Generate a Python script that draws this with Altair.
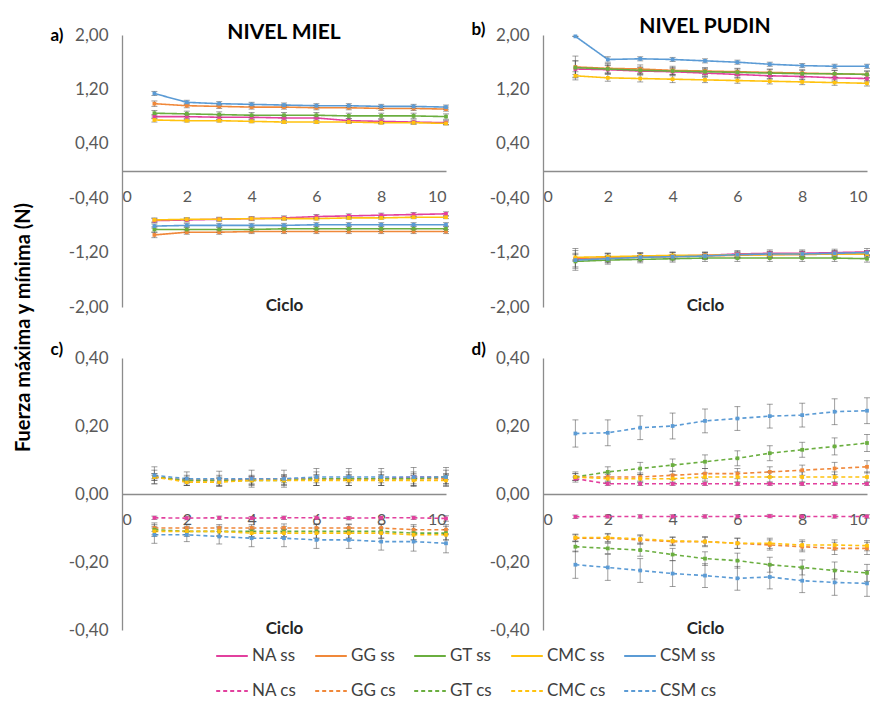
import altair as alt
import pandas as pd

CICLO = [1, 2, 3, 4, 5, 6, 7, 8, 9, 10]
SERIES = ["NA", "GG", "GT", "CMC", "CSM"]
COLORS = ["#E2409E", "#F0883A", "#6AAE3F", "#FFC20E", "#5B9BD5"]
LEGEND_LABELS = [s + " ss" for s in SERIES] + [s + " cs" for s in SERIES]
DASHES = [[1, 0]] * 5 + [[4, 3]] * 5

X_TICKS = [0, 2, 4, 6, 8, 10]
Y_TICKS_AB = [-2.0, -1.2, -0.4, 0.4, 1.2, 2.0]
Y_TICKS_CD = [-0.4, -0.2, 0.0, 0.2, 0.4]

# a) NIVEL MIEL, sin sal (ss)
MIEL_SS_MAX = {
    "NA":  [0.80, 0.80, 0.79, 0.79, 0.78, 0.78, 0.74, 0.73, 0.72, 0.71],
    "GG":  [0.99, 0.96, 0.95, 0.94, 0.94, 0.93, 0.93, 0.92, 0.92, 0.91],
    "GT":  [0.85, 0.84, 0.83, 0.82, 0.82, 0.82, 0.81, 0.81, 0.81, 0.80],
    "CMC": [0.75, 0.74, 0.74, 0.73, 0.72, 0.72, 0.72, 0.71, 0.71, 0.70],
    "CSM": [1.14, 1.01, 0.99, 0.98, 0.97, 0.96, 0.96, 0.95, 0.95, 0.94],
}
MIEL_SS_MIN = {
    "NA":  [-0.73, -0.72, -0.71, -0.70, -0.69, -0.67, -0.66, -0.65, -0.64, -0.63],
    "GG":  [-0.94, -0.90, -0.90, -0.89, -0.89, -0.89, -0.89, -0.89, -0.89, -0.89],
    "GT":  [-0.86, -0.86, -0.86, -0.86, -0.85, -0.85, -0.85, -0.85, -0.85, -0.85],
    "CMC": [-0.72, -0.71, -0.71, -0.70, -0.70, -0.70, -0.69, -0.69, -0.68, -0.68],
    "CSM": [-0.81, -0.80, -0.80, -0.80, -0.80, -0.79, -0.79, -0.79, -0.79, -0.79],
}
MIEL_SS_ERR = {
    "NA":  [0.03, 0.03, 0.03, 0.03, 0.03, 0.03, 0.03, 0.03, 0.03, 0.03],
    "GG":  [0.04, 0.03, 0.03, 0.03, 0.03, 0.03, 0.03, 0.03, 0.03, 0.03],
    "GT":  [0.04, 0.04, 0.04, 0.04, 0.04, 0.04, 0.04, 0.04, 0.04, 0.04],
    "CMC": [0.03, 0.02, 0.02, 0.02, 0.02, 0.02, 0.02, 0.02, 0.02, 0.02],
    "CSM": [0.03, 0.03, 0.03, 0.03, 0.03, 0.03, 0.03, 0.03, 0.03, 0.03],
}

# b) NIVEL PUDIN, sin sal (ss)
PUDIN_SS_MAX = {
    "NA":  [1.50, 1.49, 1.47, 1.46, 1.44, 1.42, 1.40, 1.39, 1.37, 1.36],
    "GG":  [1.53, 1.51, 1.50, 1.48, 1.47, 1.46, 1.45, 1.44, 1.43, 1.42],
    "GT":  [1.52, 1.50, 1.48, 1.47, 1.46, 1.45, 1.44, 1.43, 1.43, 1.42],
    "CMC": [1.40, 1.37, 1.36, 1.35, 1.34, 1.33, 1.32, 1.31, 1.30, 1.29],
    "CSM": [1.98, 1.64, 1.65, 1.64, 1.62, 1.60, 1.57, 1.55, 1.54, 1.54],
}
PUDIN_SS_MIN = {
    "NA":  [-1.29, -1.28, -1.26, -1.25, -1.24, -1.22, -1.21, -1.21, -1.20, -1.19],
    "GG":  [-1.30, -1.28, -1.27, -1.26, -1.25, -1.24, -1.23, -1.23, -1.22, -1.22],
    "GT":  [-1.33, -1.31, -1.30, -1.29, -1.28, -1.28, -1.28, -1.28, -1.28, -1.29],
    "CMC": [-1.27, -1.26, -1.25, -1.24, -1.24, -1.23, -1.23, -1.22, -1.22, -1.22],
    "CSM": [-1.31, -1.29, -1.27, -1.26, -1.25, -1.23, -1.22, -1.22, -1.21, -1.20],
}
PUDIN_SS_ERR = {
    "NA":  [0.12, 0.06, 0.05, 0.05, 0.05, 0.05, 0.05, 0.05, 0.05, 0.05],
    "GG":  [0.16, 0.07, 0.06, 0.06, 0.05, 0.05, 0.05, 0.05, 0.05, 0.05],
    "GT":  [0.10, 0.06, 0.05, 0.05, 0.05, 0.05, 0.05, 0.05, 0.05, 0.05],
    "CMC": [0.06, 0.05, 0.05, 0.05, 0.04, 0.04, 0.04, 0.04, 0.04, 0.04],
    "CSM": [0.00, 0.04, 0.03, 0.03, 0.03, 0.03, 0.03, 0.03, 0.03, 0.03],
}

# c) NIVEL MIEL, con sal (cs)
MIEL_CS_MAX = {
    "NA":  [0.050, 0.040, 0.040, 0.045, 0.045, 0.045, 0.045, 0.045, 0.050, 0.050],
    "GG":  [0.050, 0.040, 0.040, 0.040, 0.045, 0.045, 0.045, 0.045, 0.045, 0.045],
    "GT":  [0.050, 0.040, 0.040, 0.040, 0.040, 0.045, 0.045, 0.045, 0.045, 0.050],
    "CMC": [0.050, 0.035, 0.035, 0.040, 0.040, 0.040, 0.040, 0.040, 0.040, 0.040],
    "CSM": [0.055, 0.045, 0.045, 0.045, 0.045, 0.050, 0.050, 0.050, 0.050, 0.050],
}
MIEL_CS_MIN = {
    "NA":  [-0.070, -0.071, -0.070, -0.071, -0.070, -0.070, -0.071, -0.070, -0.070, -0.072],
    "GG":  [-0.100, -0.100, -0.100, -0.100, -0.100, -0.100, -0.100, -0.100, -0.105, -0.105],
    "GT":  [-0.105, -0.110, -0.110, -0.110, -0.110, -0.110, -0.110, -0.110, -0.115, -0.115],
    "CMC": [-0.110, -0.110, -0.110, -0.115, -0.115, -0.115, -0.115, -0.115, -0.120, -0.120],
    "CSM": [-0.120, -0.120, -0.125, -0.130, -0.130, -0.135, -0.135, -0.140, -0.140, -0.145],
}
MIEL_CS_ERR = {
    "NA":  [0.005, 0.005, 0.005, 0.005, 0.005, 0.005, 0.005, 0.005, 0.005, 0.008],
    "GG":  [0.010, 0.010, 0.010, 0.010, 0.012, 0.012, 0.012, 0.012, 0.015, 0.015],
    "GT":  [0.020, 0.015, 0.015, 0.015, 0.015, 0.020, 0.020, 0.020, 0.020, 0.020],
    "CMC": [0.010, 0.010, 0.012, 0.012, 0.012, 0.015, 0.015, 0.015, 0.015, 0.015],
    "CSM": [0.025, 0.020, 0.022, 0.025, 0.025, 0.025, 0.025, 0.025, 0.028, 0.028],
}

# d) NIVEL PUDIN, con sal (cs)
PUDIN_CS_MAX = {
    "NA":  [0.045, 0.030, 0.030, 0.030, 0.030, 0.030, 0.030, 0.030, 0.030, 0.030],
    "GG":  [0.050, 0.050, 0.050, 0.055, 0.060, 0.060, 0.065, 0.070, 0.075, 0.080],
    "GT":  [0.050, 0.065, 0.075, 0.085, 0.095, 0.105, 0.120, 0.130, 0.140, 0.150],
    "CMC": [0.050, 0.045, 0.045, 0.045, 0.050, 0.050, 0.050, 0.050, 0.050, 0.050],
    "CSM": [0.178, 0.180, 0.195, 0.200, 0.215, 0.222, 0.229, 0.232, 0.242, 0.245],
}
PUDIN_CS_MIN = {
    "NA":  [-0.067, -0.066, -0.066, -0.066, -0.066, -0.066, -0.065, -0.066, -0.066, -0.066],
    "GG":  [-0.130, -0.130, -0.135, -0.140, -0.140, -0.145, -0.150, -0.155, -0.160, -0.160],
    "GT":  [-0.155, -0.160, -0.165, -0.178, -0.190, -0.196, -0.208, -0.216, -0.225, -0.232],
    "CMC": [-0.128, -0.128, -0.132, -0.138, -0.140, -0.145, -0.145, -0.150, -0.150, -0.152],
    "CSM": [-0.208, -0.216, -0.225, -0.234, -0.240, -0.248, -0.244, -0.255, -0.260, -0.263],
}
PUDIN_CS_ERR = {
    "NA":  [0.005, 0.005, 0.005, 0.005, 0.005, 0.005, 0.005, 0.005, 0.005, 0.005],
    "GG":  [0.010, 0.012, 0.012, 0.012, 0.015, 0.015, 0.015, 0.015, 0.018, 0.018],
    "GT":  [0.015, 0.015, 0.018, 0.018, 0.020, 0.022, 0.022, 0.022, 0.025, 0.025],
    "CMC": [0.010, 0.012, 0.012, 0.012, 0.012, 0.015, 0.015, 0.015, 0.015, 0.015],
    "CSM": [0.040, 0.038, 0.035, 0.038, 0.035, 0.035, 0.035, 0.035, 0.038, 0.038],
}

FONT = "Lato"
LABEL_EXPR = "replace(replace(format(datum.value, '.2f'), '.', ','), '\u2212', '-')"
W, H = 324, 272


def build_df(maxd, mind, errd, tipo):
    rows = []
    for s in SERIES:
        for parte, vals in (("max", maxd[s]), ("min", mind[s])):
            for c, v, e in zip(CICLO, vals, errd[s]):
                rows.append(dict(ciclo=c, valor=v, lo=v - e, hi=v + e,
                                 serie=s + " " + tipo, parte=parte))
    return pd.DataFrame(rows)


LEG = alt.Legend(title=None, orient="none", legendX=93, legendY=604, direction="horizontal",
                 columns=5, symbolType="stroke",
                 symbolSize=1000, symbolStrokeWidth=2, labelFontSize=17,
                 labelFont=FONT, labelColor="#404040", columnPadding=14,
                 rowPadding=10, labelOffset=3)


def panel(df, ydomain, yticks, title, tag, tag_y):
    xs = alt.Scale(domain=[0, 10], nice=False, zero=False)
    ys = alt.Scale(domain=ydomain, nice=False, zero=False)
    xaxis = alt.Axis(values=X_TICKS, format="d", title="Ciclo", offset=-H / 2,
                     grid=False, ticks=False, tickSize=0, labelPadding=17,
                     labelFontSize=16, labelColor="#595959", labelFont=FONT,
                     domainColor="#8c8c8c", domainWidth=1.3, titleFont=FONT,
                     titleFontSize=17, titleFontWeight="bold", titleColor="#262626",
                     titleY=H / 2 - 2, titleBaseline="middle")
    yaxis = alt.Axis(values=yticks, labelExpr=LABEL_EXPR, title=tag, titleAngle=0,
                     titleX=-72, titleY=tag_y, titleAlign="left", titleBaseline="middle",
                     titleFont=FONT, titleFontSize=17, titleFontWeight="bold",
                     titleColor="#000000", grid=False, ticks=False, tickSize=0,
                     labelPadding=14, labelFontSize=17, labelColor="#595959",
                     labelFont=FONT, domainColor="#8c8c8c", domainWidth=1.3)
    X = alt.X("ciclo:Q", scale=xs, axis=xaxis)

    def Y(f):
        return alt.Y(f + ":Q", scale=ys, axis=yaxis)

    color = alt.Color("serie:N", scale=alt.Scale(domain=LEGEND_LABELS, range=COLORS * 2), legend=LEG)
    dash = alt.StrokeDash("serie:N", scale=alt.Scale(domain=LEGEND_LABELS, range=DASHES), legend=LEG)
    base = alt.Chart(df)
    lines = base.mark_line(strokeWidth=1.6).encode(x=X, y=Y("valor"), color=color,
                                                   strokeDash=dash, detail="parte:N")
    err = base.mark_errorbar(ticks={"size": 6}, color="#505050", opacity=0.55).encode(
        x=X, y=Y("lo"), y2="hi:Q")
    pts = base.mark_point(filled=True, shape="square", size=14, opacity=1).encode(
        x=X, y=Y("valor"), color=color)
    ch = alt.layer(lines, err, pts).properties(width=W, height=H)
    if title:
        ch = ch.properties(title=alt.TitleParams(title, fontSize=21, fontWeight="bold",
                                                 font=FONT, color="#000000", frame="group",
                                                 anchor="middle", offset=-17))
    return ch


a = panel(build_df(MIEL_SS_MAX, MIEL_SS_MIN, MIEL_SS_ERR, "ss"), [-2, 2], Y_TICKS_AB, "NIVEL MIEL", "a)", 0)
b = panel(build_df(PUDIN_SS_MAX, PUDIN_SS_MIN, PUDIN_SS_ERR, "ss"), [-2, 2], Y_TICKS_AB, "NIVEL PUDIN", "b)", -6)
c = panel(build_df(MIEL_CS_MAX, MIEL_CS_MIN, MIEL_CS_ERR, "cs"), [-0.4, 0.4], Y_TICKS_CD, None, "c)", -9)
d = panel(build_df(PUDIN_CS_MAX, PUDIN_CS_MIN, PUDIN_CS_ERR, "cs"), [-0.4, 0.4], Y_TICKS_CD, None, "d)", -9)

chart = alt.concat(a, b, c, d, columns=2, spacing={"row": 25, "column": 21}).resolve_scale(
    x="independent", y="independent", color="shared", strokeDash="shared"
).properties(
    title=alt.TitleParams("Fuerza máxima y mínima (N)", orient="left", anchor="middle",
                          fontSize=20, fontWeight="bold", font=FONT, color="#000000",
                          offset=16, dx=30),
    padding={"left": 5, "top": 8, "right": 0, "bottom": 0},
).configure_view(stroke=None)

chart.save("out.html", embed_options={"renderer": "svg", "actions": False})
